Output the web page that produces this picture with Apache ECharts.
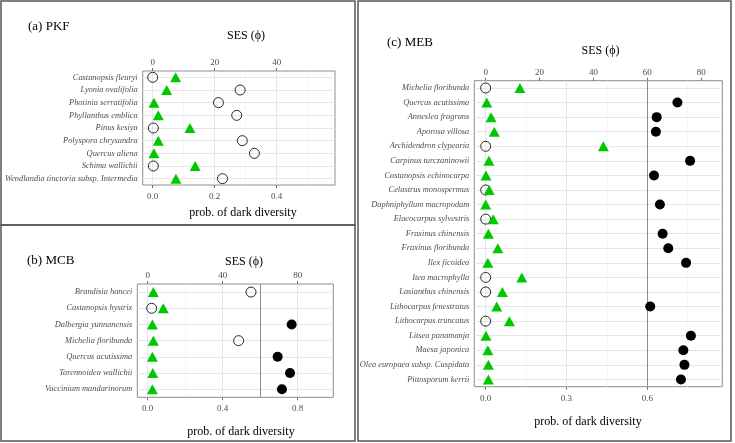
<!DOCTYPE html>
<html>
<head>
<meta charset="utf-8">
<script src="https://cdn.jsdelivr.net/npm/echarts@6/dist/echarts.min.js"></script>
<style>
  html, body { margin: 0; padding: 0; background: #fff; }
  #main { width: 735px; height: 443px; }
</style>
</head>
<body>
<div id="main"></div>
<script>
// (a) PKF
const pkfSpecies = ['Castanopsis fleuryi', 'Lyonia ovalifolia', 'Photinia serratifolia', 'Phyllanthus emblica',
  'Pinus kesiya', 'Polyspora chrysandra', 'Quercus aliena', 'Schima wallichii', 'Wendlandia tinctoria subsp. Intermedia']
const pkfProb = [0.0, 0.282, 0.212, 0.271, 0.002, 0.289, 0.328, 0.002, 0.225]
const pkfSes = [7.4, 4.5, 0.4, 1.8, 12.0, 1.8, 0.4, 13.7, 7.5]
const pkfProbTicks = [0, 0.2, 0.4]
const pkfSesTicks = [0, 20, 40]

// (b) MCB
const mcbSpecies = ['Brandisia hancei', 'Castanopsis hystrix', 'Dalbergia yunnanensis', 'Michelia floribunda',
  'Quercus acutissima', 'Tarennoidea wallichii', 'Vaccinium mandarinorum']
const mcbProb = [0.551, 0.021, 0.768, 0.485, 0.693, 0.759, 0.716]
const mcbSes = [3.0, 8.3, 2.5, 3.0, 2.5, 2.7, 2.5]
const mcbProbTicks = [0, 0.4, 0.8]
const mcbSesTicks = [0, 40, 80]

// (c) MEB
const mebSpecies = ['Michelia floribunda', 'Quercus acutissima', 'Anneslea fragrans', 'Aporosa villosa',
  'Archidendron clypearia', 'Carpinus turczaninowii', 'Castanopsis echinocarpa', 'Celastrus monospermus',
  'Daphniphyllum macropodum', 'Elaeocarpus sylvestris', 'Fraxinus chinensis', 'Fraxinus floribunda',
  'Ilex ficoidea', 'Itea macrophylla', 'Lasianthus chinensis', 'Lithocarpus fenestratus',
  'Lithocarpus truncatus', 'Litsea panamanja', 'Maesa japonica', 'Olea europaea subsp. Cuspidata',
  'Pittosporum kerrii']
const mebProb = [0.0, 0.712, 0.635, 0.632, 0.0, 0.759, 0.625, 0.0, 0.647, 0.0, 0.657,
  0.678, 0.744, 0.0, 0.0, 0.611, 0.0, 0.762, 0.734, 0.738, 0.725]
const mebSes = [12.7, 0.4, 2.0, 3.2, 43.7, 1.2, 0.1, 1.3, 0.0, 2.8, 1.0,
  4.5, 0.8, 13.4, 6.2, 4.1, 8.8, 0.1, 0.8, 1.0, 1.0]
const mebProbTicks = [0, 0.3, 0.6]
const mebSesTicks = [0, 20, 40, 60, 80]

const threshold = 0.6 // 超过阈值的点涂黑

const serif = '"Liberation Serif", "DejaVu Serif", serif'
const txtGrey = '#4d4d4d'

const panels = [
  { title: '(a) PKF', species: pkfSpecies, prob: pkfProb, ses: pkfSes, probTicks: pkfProbTicks, sesTicks: pkfSesTicks,
    grid: { left: 142.7, top: 71, width: 192.3, height: 114 }, min: -0.0323, max: 0.588, line: false,
    titlePos: [28, 27], sesPos: [246, 36], xlabPos: [243, 213] },
  { title: '(b) MCB', species: mcbSpecies, prob: mcbProb, ses: mcbSes, probTicks: mcbProbTicks, sesTicks: mcbSesTicks,
    grid: { left: 137.3, top: 284, width: 196, height: 113.3 }, min: -0.0555, max: 0.99, line: true,
    titlePos: [27, 261], sesPos: [244, 262], xlabPos: [241, 431.7] },
  { title: '(c) MEB', species: mebSpecies, prob: mebProb, ses: mebSes, probTicks: mebProbTicks, sesTicks: mebSesTicks,
    grid: { left: 474.3, top: 80.7, width: 248, height: 306 }, min: -0.0423, max: 0.8786, line: true,
    titlePos: [387, 43], sesPos: [600.5, 51], xlabPos: [588, 422] }
]

let grids = [], xAxes = [], yAxes = [], series = [], graphics = []

panels.forEach(function (p, i) {
  grids.push(Object.assign({ show: true, borderColor: '#8c8c8c', borderWidth: 1, backgroundColor: '#fff' }, p.grid))

  // 网格线：主刻度 + 中间的次刻度
  let step = p.probTicks[1] - p.probTicks[0]
  let gridX = []
  for (let v = p.probTicks[0]; v < p.max; v += step / 2) gridX.push(+v.toFixed(3))

  const tickStyle = { show: true, length: 3, lineStyle: { color: txtGrey, width: 0.8 } }
  xAxes.push({
    type: 'value', gridIndex: i, position: 'bottom', min: p.min, max: p.max,
    axisLine: { show: false }, splitLine: { show: false },
    axisTick: Object.assign({ customValues: p.probTicks }, tickStyle),
    axisLabel: { customValues: p.probTicks, formatter: v => v.toFixed(1), fontFamily: serif, fontSize: 9, color: txtGrey, margin: 7 }
  })
  xAxes.push({
    type: 'value', gridIndex: i, position: 'top', min: p.min * 100, max: p.max * 100,
    axisLine: { show: false }, splitLine: { show: false },
    axisTick: Object.assign({ customValues: p.sesTicks }, tickStyle),
    axisLabel: { customValues: p.sesTicks, formatter: v => String(Math.round(v)), fontFamily: serif, fontSize: 9, color: txtGrey, margin: 4 }
  })
  yAxes.push({
    type: 'category', gridIndex: i, data: p.species, inverse: true, boundaryGap: true,
    axisLine: { show: false }, splitLine: { show: false },
    axisTick: { show: true, alignWithLabel: true, interval: 0, length: 3, lineStyle: { color: txtGrey, width: 0.8 } },
    axisLabel: { interval: 0, fontFamily: serif, fontStyle: 'italic', fontSize: 8.4, color: txtGrey, margin: 5 }
  })

  let lines = []
  gridX.forEach(function (v, k) {
    lines.push({ xAxis: v, lineStyle: { color: k % 2 === 0 ? '#e6e6e6' : '#f3f3f3', width: k % 2 === 0 ? 1 : 0.7, type: 'solid' } })
  })
  p.species.forEach(function (s) {
    lines.push({ yAxis: s, lineStyle: { color: '#e6e6e6', width: 1, type: 'solid' } })
  })
  if (p.line) lines.push({ xAxis: threshold, lineStyle: { color: '#8c8c8c', width: 1, type: 'solid' } })

  let open = [], filled = []
  p.prob.forEach(function (v, k) {
    if (v < threshold) open.push([v, p.species[k]])
    else filled.push([v, p.species[k]])
  })

  series.push({
    type: 'scatter', xAxisIndex: i * 2, yAxisIndex: i, data: open, symbol: 'circle', symbolSize: 10, z: 3,
    itemStyle: { color: 'rgba(255,255,255,0)', borderColor: '#111', borderWidth: 0.9, opacity: 1 },
    markLine: { silent: true, symbol: 'none', z: 1, animation: false, label: { show: false }, data: lines }
  })
  series.push({
    type: 'scatter', xAxisIndex: i * 2, yAxisIndex: i, data: filled, symbol: 'circle', symbolSize: 10, z: 3,
    itemStyle: { color: '#000', opacity: 1 }
  })
  series.push({
    type: 'scatter', xAxisIndex: i * 2 + 1, yAxisIndex: i, data: p.ses.map((v, k) => [v, p.species[k]]),
    symbol: 'triangle', symbolSize: [11, 10], z: 4, itemStyle: { color: '#00c800', opacity: 1 }
  })

  graphics.push({ type: 'text', x: p.titlePos[0], y: p.titlePos[1],
    style: { text: p.title, font: '13px ' + serif, fill: '#000', verticalAlign: 'middle' } })
  graphics.push({ type: 'text', x: p.sesPos[0], y: p.sesPos[1],
    style: { text: 'SES (ϕ)', font: '12px ' + serif, fill: '#000', align: 'center', verticalAlign: 'middle' } })
  graphics.push({ type: 'text', x: p.xlabPos[0], y: p.xlabPos[1],
    style: { text: 'prob. of dark diversity', font: '12px ' + serif, fill: '#000', align: 'center', verticalAlign: 'middle' } })
})

// 外框
const frameStyle = { fill: 'none', stroke: '#555', lineWidth: 1.5 }
graphics.push({ type: 'rect', shape: { x: 1, y: 1, width: 354, height: 224 }, style: frameStyle })
graphics.push({ type: 'rect', shape: { x: 1, y: 225, width: 354, height: 216 }, style: frameStyle })
graphics.push({ type: 'rect', shape: { x: 358, y: 1, width: 373, height: 440 }, style: frameStyle })

let myChart = echarts.init(document.getElementById('main'))
myChart.setOption({
  animation: false,
  backgroundColor: '#fff',
  grid: grids,
  xAxis: xAxes,
  yAxis: yAxes,
  series: series,
  graphic: graphics
})
</script>
</body>
</html>
